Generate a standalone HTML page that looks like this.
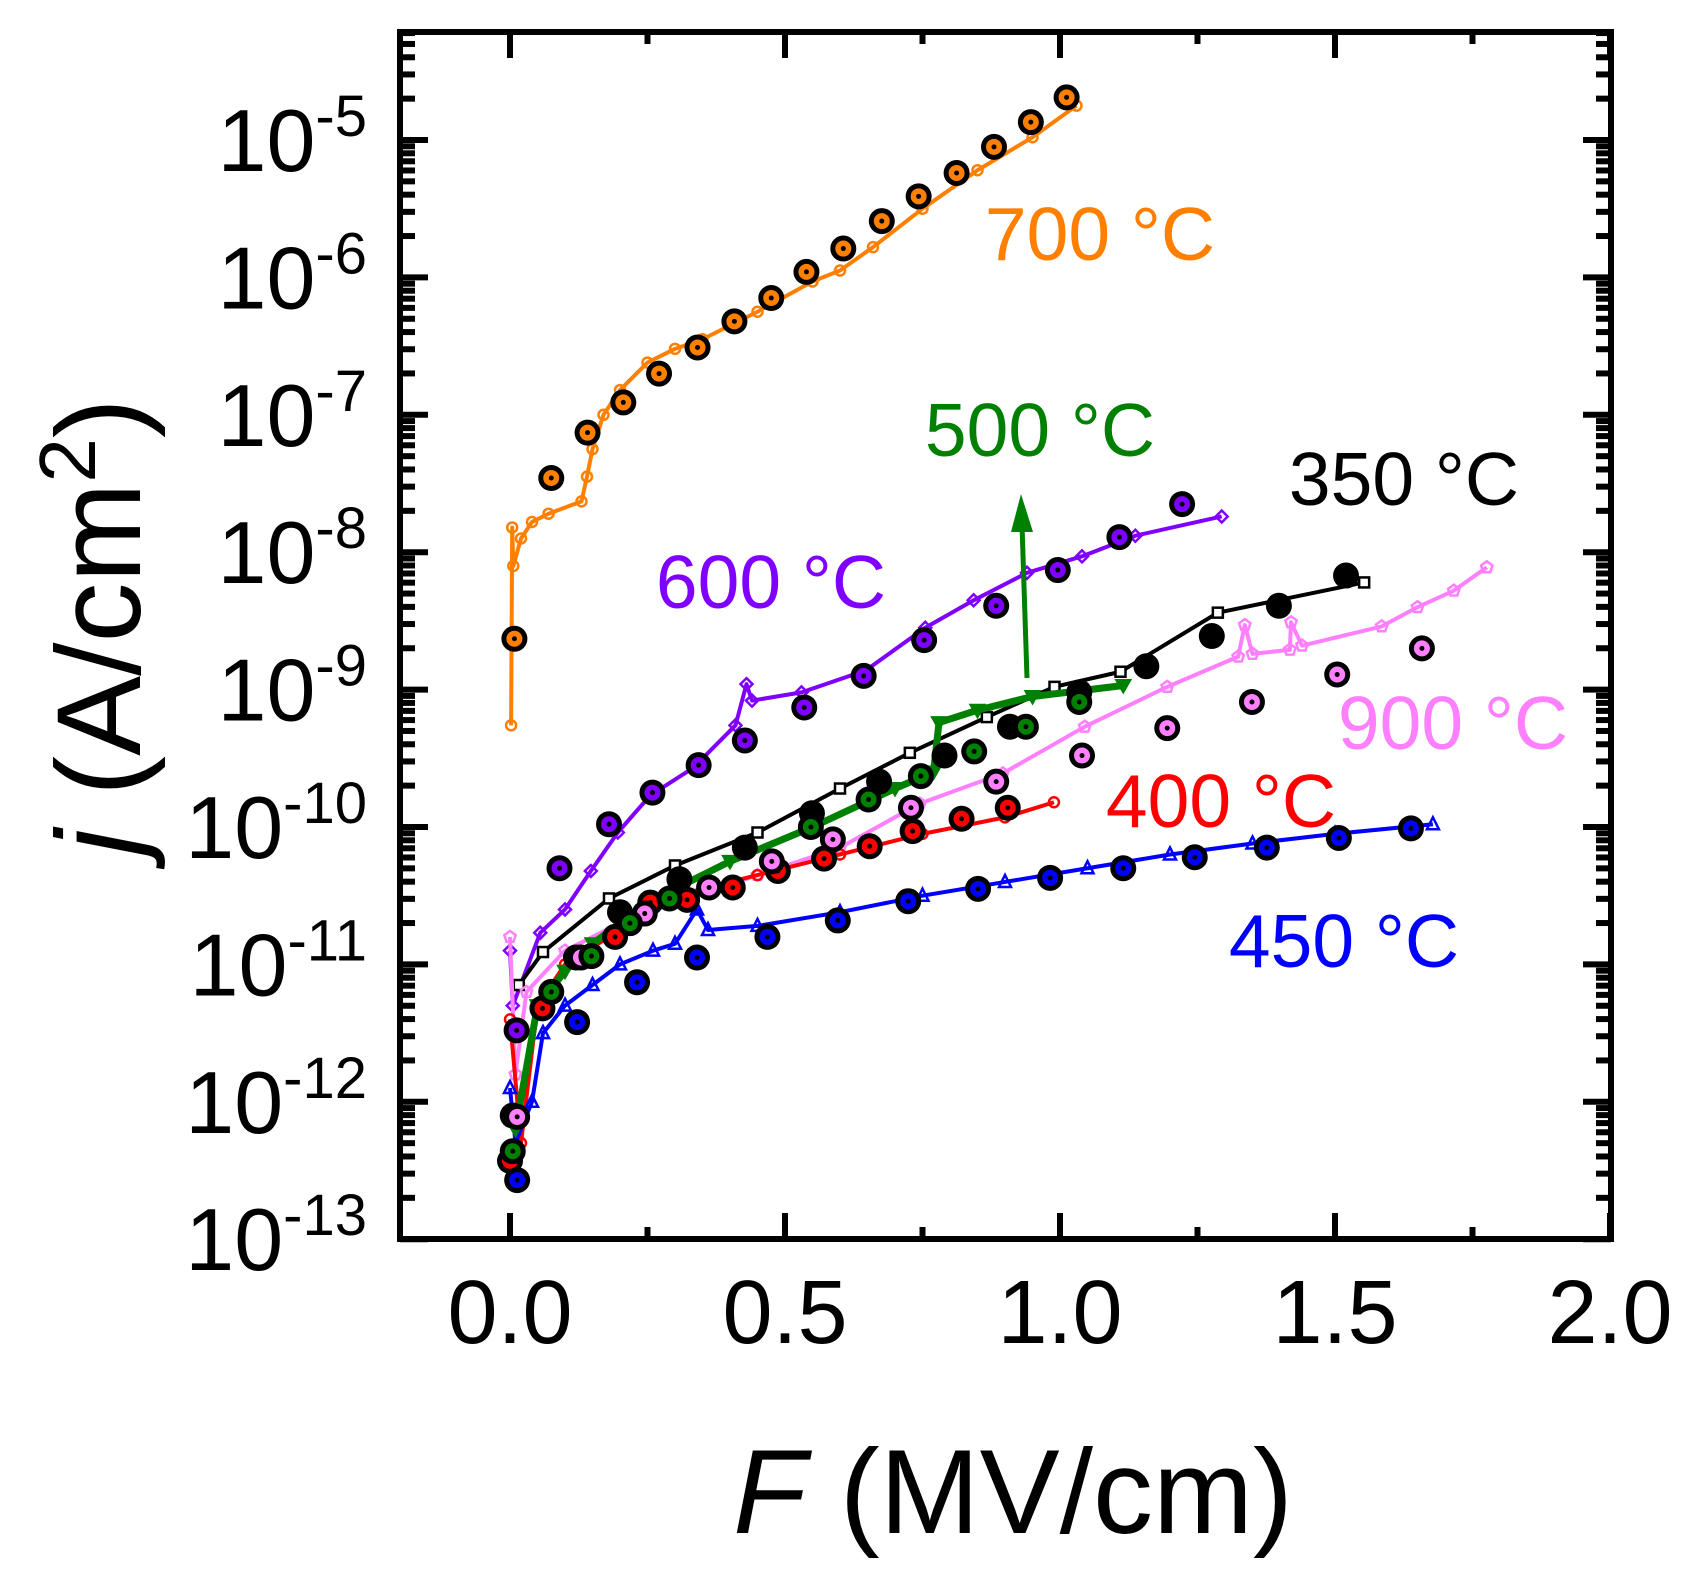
<!DOCTYPE html>
<html><head><meta charset="utf-8"><style>
html,body{margin:0;padding:0;background:#fff;}
svg{display:block;font-family:"Liberation Sans",sans-serif;}
</style></head><body>
<svg id="chart" width="1695" height="1571" viewBox="0 0 1695 1571" xmlns="http://www.w3.org/2000/svg">
<g id="lines"></g>
<g id="marks"></g>
<g id="axes"></g>
<text x="1100" y="260" font-size="75" fill="#ff8000" text-anchor="middle">700 °C</text>
<text x="1040" y="456" font-size="75" fill="#008000" text-anchor="middle">500 °C</text>
<text x="1404" y="505" font-size="75" fill="#000" text-anchor="middle">350 °C</text>
<text x="771" y="608" font-size="75" fill="#8000ff" text-anchor="middle">600 °C</text>
<text x="1453" y="749" font-size="75" fill="#ff80ff" text-anchor="middle">900 °C</text>
<text x="1221" y="827" font-size="75" fill="#ff0000" text-anchor="middle">400 °C</text>
<text x="1344" y="967" font-size="75" fill="#0000ff" text-anchor="middle">450 °C</text>
<text x="1013" y="1533" font-size="120" text-anchor="middle"><tspan font-style="italic">F</tspan> (MV/cm)</text>
<text transform="translate(140,627) rotate(-90)" font-size="120" text-anchor="middle"><tspan font-style="italic">j</tspan> (A/cm<tspan dy="-45" font-size="80">2</tspan><tspan dy="45">)</tspan></text>
</svg>
<script>
// ---- data (F in MV/cm, log10 j in A/cm^2) ----
const line700F=[0.002,0.004,0.006,0.02,0.04,0.07,0.13,0.14,0.15,0.17,0.2,0.25,0.3,0.35,0.45,0.55,0.6,0.66,0.75,0.85,0.95,1.03];
const line700L=[-9.26,-7.82,-8.1,-7.9,-7.78,-7.72,-7.63,-7.45,-7.25,-7.0,-6.82,-6.62,-6.52,-6.45,-6.25,-6.03,-5.95,-5.78,-5.5,-5.22,-4.98,-4.75];
const pts700F=[0.008,0.075,0.141,0.206,0.271,0.341,0.408,0.475,0.539,0.606,0.676,0.743,0.812,0.880,0.947,1.012];
const pts700L=[-8.63,-7.46,-7.13,-6.91,-6.70,-6.51,-6.32,-6.15,-5.96,-5.79,-5.59,-5.41,-5.24,-5.05,-4.87,-4.69];

const line600F=[0.0,0.005,0.055,0.1,0.147,0.196,0.255,0.333,0.41,0.43,0.44,0.53,0.647,0.755,0.843,0.94,1.04,1.137,1.294];
const line600L=[-10.9,-11.3,-10.77,-10.6,-10.32,-10.04,-9.77,-9.57,-9.26,-8.96,-9.08,-9.02,-8.86,-8.55,-8.35,-8.15,-8.03,-7.88,-7.74];
const pts600F=[0.012,0.090,0.180,0.259,0.343,0.427,0.535,0.643,0.753,0.884,0.996,1.108,1.222];
const pts600L=[-11.48,-10.30,-9.98,-9.75,-9.55,-9.37,-9.13,-8.90,-8.64,-8.39,-8.13,-7.89,-7.65];

const line350F=[0.016,0.06,0.18,0.3,0.45,0.6,0.727,0.867,0.99,1.11,1.287,1.553];
const line350L=[-11.15,-10.91,-10.52,-10.28,-10.04,-9.72,-9.46,-9.2,-8.98,-8.87,-8.44,-8.22];
const pts350F=[0.005,0.12,0.2,0.308,0.427,0.549,0.671,0.79,0.909,1.035,1.157,1.276,1.398,1.52];
const pts350L=[-12.1,-10.95,-10.62,-10.38,-10.15,-9.90,-9.67,-9.48,-9.27,-9.02,-8.83,-8.61,-8.39,-8.17];

const line500F=[0.01,0.05,0.1,0.15,0.25,0.4,0.55,0.7,0.77,0.78,0.85,0.95,1.115];
const line500L=[-12.2,-11.3,-11.05,-10.85,-10.55,-10.25,-10.0,-9.72,-9.6,-9.24,-9.15,-9.05,-8.97];
const pts500F=[0.005,0.075,0.148,0.218,0.29,0.547,0.652,0.747,0.844,0.938,1.035];
const pts500L=[-12.36,-11.20,-10.94,-10.70,-10.52,-10.0,-9.80,-9.63,-9.45,-9.27,-9.09];

const line400F=[0.0,0.02,0.05,0.1,0.2,0.3,0.45,0.6,0.75,0.9,0.989];
const line400L=[-11.4,-12.3,-11.3,-11.0,-10.75,-10.5,-10.35,-10.2,-10.05,-9.93,-9.82];
const pts400F=[0.0,0.059,0.191,0.255,0.322,0.405,0.487,0.571,0.654,0.732,0.821,0.905];
const pts400L=[-12.43,-11.32,-10.80,-10.55,-10.53,-10.44,-10.32,-10.23,-10.14,-10.03,-9.94,-9.86];

const line450F=[0.0,0.01,0.04,0.06,0.1,0.15,0.2,0.26,0.3,0.34,0.36,0.45,0.6,0.75,0.9,1.05,1.2,1.35,1.5,1.678];
const line450L=[-11.9,-12.3,-12.0,-11.5,-11.3,-11.15,-11.0,-10.9,-10.85,-10.6,-10.75,-10.72,-10.62,-10.5,-10.4,-10.3,-10.2,-10.12,-10.05,-9.98];
const pts450F=[0.013,0.122,0.231,0.34,0.468,0.596,0.724,0.851,0.982,1.115,1.245,1.376,1.507,1.638];
const pts450L=[-12.57,-11.42,-11.13,-10.95,-10.80,-10.68,-10.54,-10.45,-10.37,-10.30,-10.22,-10.15,-10.08,-10.01];

const line900F=[0.0,0.01,0.03,0.1,0.2,0.3,0.45,0.6,0.745,0.896,1.045,1.195,1.324,1.336,1.35,1.418,1.42,1.44,1.585,1.65,1.716,1.776];
const line900L=[-10.8,-11.8,-11.2,-10.9,-10.7,-10.55,-10.35,-10.15,-9.83,-9.61,-9.27,-8.98,-8.76,-8.53,-8.74,-8.71,-8.51,-8.68,-8.54,-8.40,-8.28,-8.11];
const pts900F=[0.013,0.129,0.245,0.362,0.476,0.587,0.729,0.884,1.04,1.195,1.349,1.504,1.658];
const pts900L=[-12.11,-10.95,-10.63,-10.44,-10.25,-10.09,-9.86,-9.67,-9.48,-9.28,-9.09,-8.89,-8.70];

const yDecades=[-13,-12,-11,-10,-9,-8,-7,-6,-5];
const xTickLabels=["0.0","0.5","1.0","1.5","2.0"];
const xTickValues=[0,0.5,1,1.5,2];

// ---- scales ----
const X0=400,X1=1611,Y0=32,Y1=1239;
function sx(f){return 510+550*f;}
function sy(l){return 140+(-5-l)*137.4;}
const NS="http://www.w3.org/2000/svg";
function mk(tag,attrs,parent){const e=document.createElementNS(NS,tag);for(const k in attrs)e.setAttribute(k,attrs[k]);parent.appendChild(e);return e;}
const G=document.getElementById('lines'),M=document.getElementById('marks'),A=document.getElementById('axes');

function shape(type,x,y,col,parent){
  let e;
  if(type==='circle'){e=mk('circle',{cx:x,cy:y,r:5,fill:'none',stroke:col,'stroke-width':2.5},parent);}
  else if(type==='square'){e=mk('rect',{x:x-5,y:y-5,width:10,height:10,fill:'#fff',stroke:col,'stroke-width':2.5},parent);}
  else if(type==='diamond'){e=mk('polygon',{points:`${x},${y-6} ${x+6},${y} ${x},${y+6} ${x-6},${y}`,fill:'none',stroke:col,'stroke-width':2.5},parent);}
  else if(type==='tri'){e=mk('polygon',{points:`${x},${y-7} ${x+6},${y+5} ${x-6},${y+5}`,fill:'none',stroke:col,'stroke-width':2.5},parent);}
  else if(type==='dtri'){e=mk('polygon',{points:`${x-8},${y-6} ${x+8},${y-6} ${x},${y+8}`,fill:col,stroke:col,'stroke-width':1},parent);}
  else {let p=[];for(let i=0;i<5;i++){const a=-Math.PI/2+i*2*Math.PI/5;p.push((x+6*Math.cos(a)).toFixed(1)+','+(y+6*Math.sin(a)).toFixed(1));}
    e=mk('polygon',{points:p.join(' '),fill:'none',stroke:col,'stroke-width':2.5},parent);}
  return e;
}
function drawLine(F,L,col,type,name,w){
  const g=mk('g',{},G);
  
  
  const pl=mk('polyline',{points:F.map((f,i)=>sx(f)+','+sy(L[i])).join(' '),fill:'none',stroke:col,'stroke-width':w,'stroke-linejoin':'round'},g);
  
  
  F.forEach((f,i)=>{const s=shape(type,sx(f),sy(L[i]),col,g);
    
    });
}
function drawPts(F,L,col,name,solid){
  const g=mk('g',{},M);
  
  
  F.forEach((f,i)=>{
    const x=sx(f),y=sy(L[i]);
    const c=mk('circle',{cx:x,cy:y,r:13,fill:'#000'},g);
    
    
    if(!solid){
      mk('circle',{cx:x,cy:y,r:8,fill:col},g);
      mk('circle',{cx:x,cy:y,r:2.5,fill:'#000'},g);
    }
  });
}
drawLine(line700F,line700L,'#ff8000','circle','curve-700c',4);
drawLine(line600F,line600L,'#8000ff','diamond','curve-600c',4);
drawLine(line350F,line350L,'#000000','square','curve-350c',4);
drawLine(line900F,line900L,'#ff80ff','pent','curve-900c',4);
drawLine(line400F,line400L,'#ff0000','circle','curve-400c',4);
drawLine(line450F,line450L,'#0000ff','tri','curve-450c',4);
drawLine(line500F,line500L,'#008000','dtri','curve-500c',7);

drawPts(pts700F,pts700L,'#ff8000','points-700c',false);
drawPts(pts600F,pts600L,'#8000ff','points-600c',false);
drawPts(pts350F,pts350L,'#000','points-350c',true);
drawPts(pts400F,pts400L,'#ff0000','points-400c',false);
drawPts(pts900F,pts900L,'#ff80ff','points-900c',false);
drawPts(pts500F,pts500L,'#008000','points-500c',false);
drawPts(pts450F,pts450L,'#0000ff','points-450c',false);

// arrow
const arr=mk('g',{},M);


mk('line',{x1:1027,y1:678,x2:1022,y2:525,stroke:'#008000','stroke-width':5},arr);
mk('polygon',{points:'1021,494 1011,532 1033,532',fill:'#008000'},arr);

// axes frame
const fr=mk('rect',{x:X0,y:Y0,width:X1-X0,height:Y1-Y0,fill:'none',stroke:'#000','stroke-width':6},A);


// y ticks
yDecades.forEach(d=>{
  const y=sy(d);
  mk('line',{x1:X0,y1:y,x2:X0+28,y2:y,stroke:'#000','stroke-width':6},A);
  mk('line',{x1:X1,y1:y,x2:X1-28,y2:y,stroke:'#000','stroke-width':6},A);
  const t=mk('text',{x:367,y:y+31,'font-size':88,'text-anchor':'end'},A);
  
  
  t.textContent='10';
  const sp=mk('tspan',{dy:-35,'font-size':58},t);sp.textContent='-'+(-d);
  for(let m=2;m<=9;m++){
    const l=d+Math.log10(m);
    if(l>-4.22)continue;
    const yy=sy(l);
    mk('line',{x1:X0,y1:yy,x2:X0+15,y2:yy,stroke:'#000','stroke-width':6},A);
    mk('line',{x1:X1,y1:yy,x2:X1-15,y2:yy,stroke:'#000','stroke-width':6},A);
  }
});
// x ticks
xTickValues.forEach((v,i)=>{
  const x=sx(v);
  mk('line',{x1:x,y1:Y1,x2:x,y2:Y1-26,stroke:'#000','stroke-width':6},A);
  mk('line',{x1:x,y1:Y0,x2:x,y2:Y0+26,stroke:'#000','stroke-width':6},A);
  const t=mk('text',{x:x,y:1343,'font-size':90,'text-anchor':'middle'},A);
  
  
  t.textContent=xTickLabels[i];
  const mx=sx(v+0.25);
  if(v+0.25<2){
    mk('line',{x1:mx,y1:Y1,x2:mx,y2:Y1-12,stroke:'#000','stroke-width':6},A);
    mk('line',{x1:mx,y1:Y0,x2:mx,y2:Y0+12,stroke:'#000','stroke-width':6},A);
  }
});
</script>
</body></html>
